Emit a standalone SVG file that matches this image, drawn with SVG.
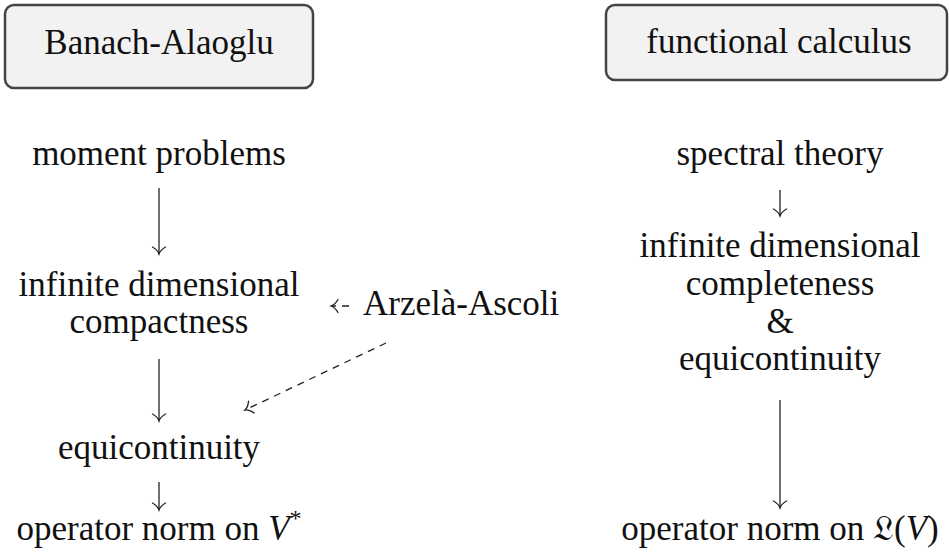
<svg xmlns="http://www.w3.org/2000/svg" width="949" height="558" viewBox="0 0 949 558">
<defs>
<style>
.t{font-family:"Liberation Serif","DejaVu Serif",serif;font-size:35px;fill:#111;text-anchor:middle}
.box{fill:#f2f2f2;stroke:#444;stroke-width:2.5}
.c{stroke:#222;stroke-width:1.3;fill:none}
.d{stroke-dasharray:7 6}
</style>
<marker id="ah" markerUnits="userSpaceOnUse" markerWidth="20" markerHeight="20" viewBox="-10 -10 20 20" refX="0" refY="0" orient="auto">
<path d="M -7,-6.5 C -5,-3 -2.5,-0.8 0,0 C -2.5,0.8 -5,3 -7,6.5" fill="none" stroke="#222" stroke-width="1.3" stroke-linecap="round"/>
</marker>
</defs>
<rect width="949" height="558" fill="#fff"/>
<g id="banach">
<rect class="box" x="5" y="5" width="308" height="83" rx="9"/>
<text class="t" x="159" y="54">Banach-Alaoglu</text>
</g>
<g id="functional">
<rect class="box" x="606" y="5" width="341" height="75" rx="9"/>
<text class="t" x="779" y="53">functional calculus</text>
</g>
<g id="moment"><text class="t" x="159" y="165">moment problems</text></g>
<g id="compactness"><text class="t" x="159" y="296">infinite dimensional</text><text class="t" x="159" y="333">compactness</text></g>
<g id="equicont-left"><text class="t" x="159" y="459">equicontinuity</text></g>
<g id="opnorm-left"><text class="t" x="159" y="540">operator norm on <tspan font-style="italic">V</tspan><tspan font-size="24" dy="-14">*</tspan></text></g>
<g id="arzela"><text class="t" x="363" y="315" style="text-anchor:start">Arzelà-Ascoli</text></g>
<g id="spectral"><text class="t" x="780" y="165">spectral theory</text></g>
<g id="completeness"><text class="t" x="780" y="257">infinite dimensional</text><text class="t" x="780" y="295">completeness</text><text class="t" x="780" y="333">&amp;</text><text class="t" x="780" y="370">equicontinuity</text></g>
<g id="opnorm-right"><text class="t" x="780" y="540">operator norm on 𝔏(<tspan font-style="italic">V</tspan>)</text></g>
<g id="connectors">
<line class="c" x1="159" y1="188" x2="159" y2="254" marker-end="url(#ah)"/>
<line class="c" x1="159" y1="359" x2="159" y2="421" marker-end="url(#ah)"/>
<line class="c" x1="159" y1="482" x2="159" y2="510" marker-end="url(#ah)"/>
<line class="c" x1="780" y1="190" x2="780" y2="216" marker-end="url(#ah)"/>
<line class="c" x1="780" y1="400" x2="780" y2="508" marker-end="url(#ah)"/>
<line class="c d" x1="386" y1="343" x2="245" y2="410" marker-end="url(#ah)"/>
<line class="c d" x1="349" y1="306" x2="331" y2="306" marker-end="url(#ah)"/>
</g>
</svg>
